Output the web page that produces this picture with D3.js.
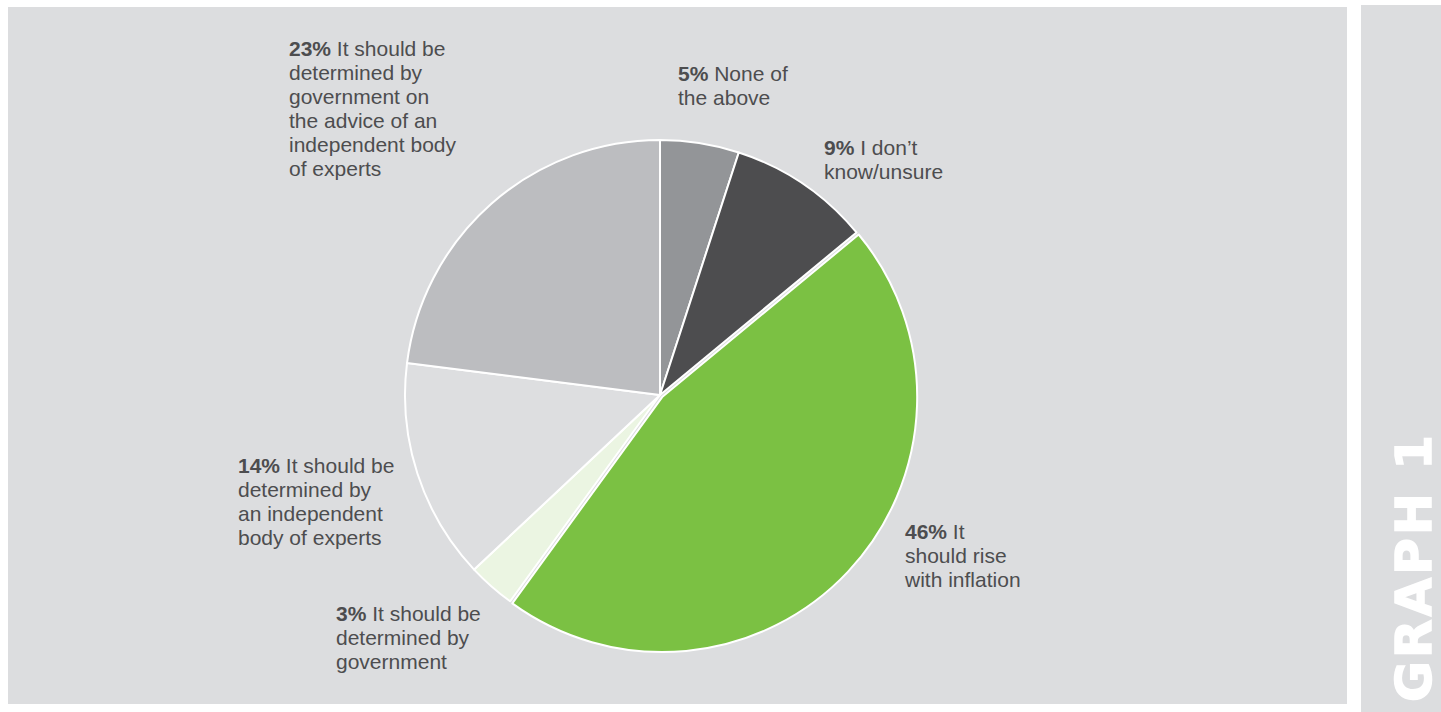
<!DOCTYPE html>
<html lang="en">
<head>
    <meta charset="UTF-8">
    <title>Graph 1</title>
    <script src="https://cdnjs.cloudflare.com/ajax/libs/d3/7.8.5/d3.min.js"></script>
    <style>
        body {
            margin: 0;
            background: #ffffff;
            overflow: hidden;
        }
        svg { display: block; }
        .label { font-family: "Liberation Sans", Arial, sans-serif; font-size: 21px; fill: #4d4d4f; }
        .label .pct { font-weight: bold; }
        .graph-title { font-family: "DejaVu Sans", sans-serif; font-weight: bold; font-size: 50px; fill: #ffffff; stroke: #ffffff; stroke-width: 1.5px; letter-spacing: 3px; }
    </style>
</head>
<body>
<div id="chart"></div>
<script>
    // Data (clockwise from 12 o'clock)
    const categories = [
        "None of the above",
        "I don't know/unsure",
        "It should rise with inflation",
        "It should be determined by government",
        "It should be determined by an independent body of experts",
        "It should be determined by government on the advice of an independent body of experts"
    ];
    const values = [5, 9, 46, 3, 14, 23];
    const pctLabels = ["5%", "9%", "46%", "3%", "14%", "23%"];
    // label text as wrapped in the original (first line follows the bold %)
    const labelLines = [
        ["None of", "the above"],
        ["I don\u2019t", "know/unsure"],
        ["It", "should rise", "with inflation"],
        ["It should be", "determined by", "government"],
        ["It should be", "determined by", "an independent", "body of experts"],
        ["It should be", "determined by", "government on", "the advice of an", "independent body", "of experts"]
    ];

    // Styling / layout
    const colors = ["#939598", "#4d4d4f", "#7bc143", "#ebf5e2", "#dddee0", "#bcbdc0"];
    const labelPos = [[678, 80.5], [824, 154.5], [905, 538.5], [336, 620.5], [238, 472.5], [289, 56]];
    const lineHeight = 24;
    const width = 1441, height = 712;
    const cx = 660, cy = 395, radius = 255;
    const explode = [0, 0, 3, 0, 0, 0];

    const svg = d3.select("#chart").append("svg")
        .attr("width", width)
        .attr("height", height);

    // panels
    svg.append("rect").attr("x", 8).attr("y", 7).attr("width", 1339).attr("height", 697).attr("fill", "#dcdddf");
    svg.append("rect").attr("x", 1361).attr("y", 5).attr("width", 80).attr("height", 707).attr("fill", "#dcdddf");

    svg.append("text")
        .attr("class", "graph-title")
        .attr("transform", "translate(1431,432) rotate(-90)")
        .attr("text-anchor", "end")
        .text("GRAPH 1");

    const data = categories.map((c, i) => ({ name: c, value: values[i], i }));

    const pie = d3.pie().value(d => d.value).sort(null);
    const arc = d3.arc().innerRadius(0).outerRadius(radius);
    const arcs = pie(data);

    const g = svg.append("g").attr("transform", `translate(${cx},${cy})`);

    g.selectAll("path")
        .data(arcs)
        .join("path")
        .attr("d", arc)
        .attr("transform", d => {
            const a = (d.startAngle + d.endAngle) / 2;
            const o = explode[d.data.i];
            return `translate(${Math.sin(a) * o},${-Math.cos(a) * o})`;
        })
        .attr("fill", d => colors[d.data.i])
        .attr("stroke", "#ffffff")
        .attr("stroke-width", 2)
        .attr("stroke-linejoin", "round");

    // labels
    data.forEach((d, i) => {
        const t = svg.append("text")
            .attr("class", "label")
            .attr("x", labelPos[i][0])
            .attr("y", labelPos[i][1]);
        labelLines[i].forEach((line, j) => {
            if (j === 0) {
                t.append("tspan").attr("class", "pct").text(pctLabels[i]);
                t.append("tspan").text(" " + line);
            } else {
                t.append("tspan")
                    .attr("x", labelPos[i][0])
                    .attr("dy", lineHeight)
                    .text(line);
            }
        });
    });
</script>
</body>
</html>
